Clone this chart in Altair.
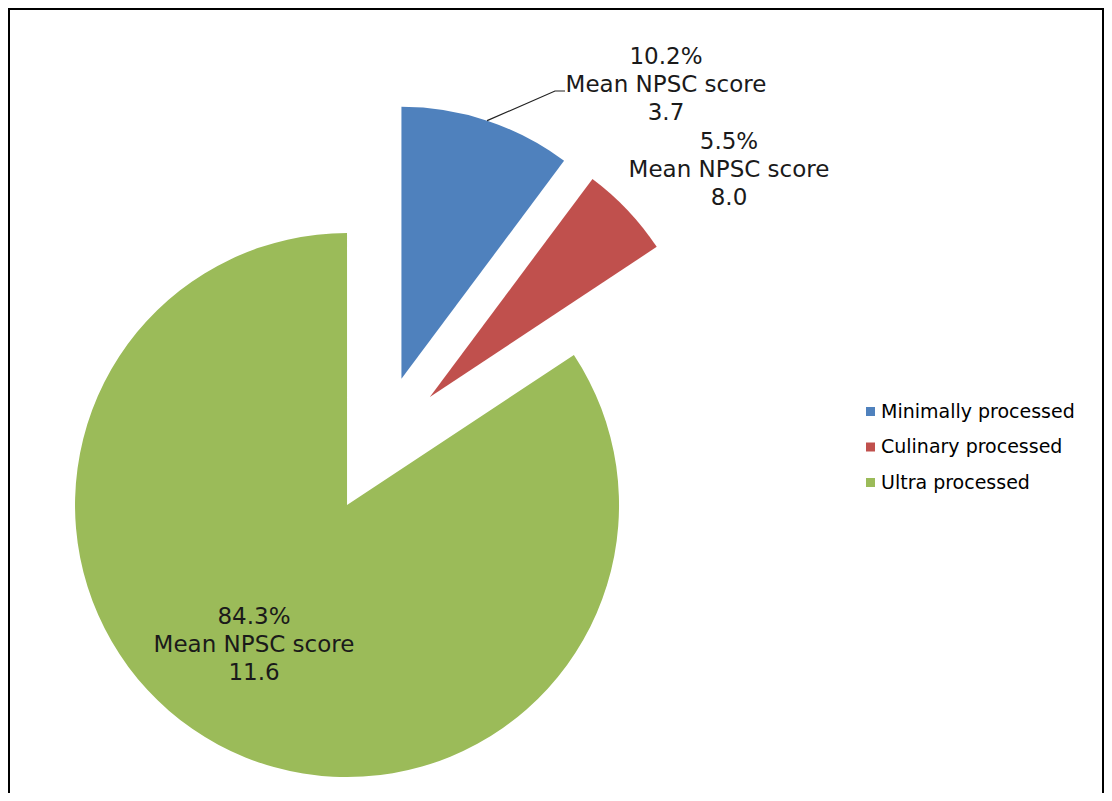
import altair as alt
import pandas as pd
import numpy as np

# ---- data ----
categories = ["Minimally processed", "Culinary processed", "Ultra processed"]
shares = [10.2, 5.5, 84.3]
npsc_scores = ["3.7", "8.0", "11.6"]

# ---- style / layout ----
colors = ["#4F81BD", "#C0504D", "#9BBB59"]
FONT = "DejaVu Sans"
W, H = 1096, 785
CX, CY = 371.7, 436.3      # pie centre (before explosion)
R = 272                    # pie radius
EXPLODE = 69               # explosion distance
label_anchors = [(658, 49), (721, 134), (246, 609)]   # centre of first label line

df = pd.DataFrame({
    "category": categories,
    "share": shares,
    "score": npsc_scores,
    "order": list(range(len(categories))),
})
df["label"] = [f"{s:.1f}%\nMean NPSC score\n{sc}" for s, sc in zip(shares, npsc_scores)]
df["lx"] = [p[0] for p in label_anchors]
df["ly"] = [p[1] for p in label_anchors]

base = alt.Chart(df).transform_window(
    cum="sum(share)", sort=[alt.SortField("order")], frame=[None, 0]
).transform_calculate(
    t0="(datum.cum - datum.share) / 100 * 2 * PI",
    t1="datum.cum / 100 * 2 * PI",
).transform_calculate(
    mid="(datum.t0 + datum.t1) / 2",
).transform_calculate(
    cx=f"{CX} + {EXPLODE} * sin(datum.mid)",
    cy=f"{CY} - {EXPLODE} * cos(datum.mid)",
)

pie = base.mark_arc(radius=R, strokeWidth=0).encode(
    x=alt.X("cx:Q", scale=None, axis=None),
    y=alt.Y("cy:Q", scale=None, axis=None),
    theta=alt.Theta("t0:Q", scale=None, stack=None),
    theta2="t1:Q",
    color=alt.Color(
        "category:N",
        sort=categories,
        scale=alt.Scale(domain=categories, range=colors),
        legend=alt.Legend(
            title=None, orient="none", legendX=853, legendY=394,
            symbolType="square", symbolSize=81, symbolStrokeWidth=0,
            labelFont=FONT, labelFontSize=19, labelColor="#000000",
            labelOffset=1, rowPadding=15.5, labelLimit=0,
        ),
    ),
)

labels = alt.Chart(df).mark_text(
    font=FONT, fontSize=23, lineHeight=28, lineBreak="\n",
    align="center", baseline="middle", color="#1a1a1a",
).encode(
    x=alt.X("lx:Q", scale=None, axis=None),
    y=alt.Y("ly:Q", scale=None, axis=None),
    text="label:N",
)

# leader line for the first slice: from the middle of its outer arc to its label
cum = np.cumsum(shares)
mid0 = (cum[0] - shares[0] / 2) / 100 * 2 * np.pi
sx = CX + EXPLODE * np.sin(mid0) + R * np.sin(mid0)
sy = CY - EXPLODE * np.cos(mid0) - R * np.cos(mid0)
lx0, ly0 = label_anchors[0]
leader_df = pd.DataFrame({
    "px": [sx, lx0 - 111, lx0 - 101],
    "py": [sy, ly0 + 34, ly0 + 34],
    "k": [0, 1, 2],
})
leader = alt.Chart(leader_df).mark_line(color="#222222", strokeWidth=1.2).encode(
    x=alt.X("px:Q", scale=None, axis=None),
    y=alt.Y("py:Q", scale=None, axis=None),
    order="k:O",
)

frame_df = pd.DataFrame({"a": [0]})
frame_top = alt.Chart(frame_df).mark_rule(color="#000000", strokeWidth=2).encode(
    x=alt.value(0), x2=alt.value(W), y=alt.value(1)
)
frame_left = alt.Chart(frame_df).mark_rule(color="#000000", strokeWidth=2).encode(
    x=alt.value(1), y=alt.value(0), y2=alt.value(H)
)
frame_right = alt.Chart(frame_df).mark_rule(color="#000000", strokeWidth=2).encode(
    x=alt.value(W - 1), y=alt.value(0), y2=alt.value(H)
)

chart = alt.layer(pie, labels, leader, frame_top, frame_left, frame_right).properties(
    width=W, height=H, padding=0,
    autosize=alt.AutoSizeParams(type="none"),
).configure_view(stroke=None)

chart.save("out.html", embed_options={"renderer": "svg", "actions": False})
